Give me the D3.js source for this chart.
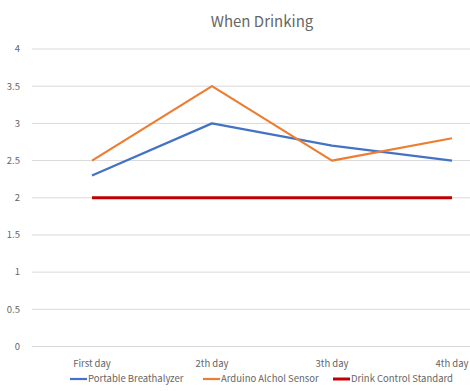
<!DOCTYPE html>
<html>
<head>
<meta charset="utf-8">
<script src="https://cdn.jsdelivr.net/npm/d3@7"></script>
<style>
    body { margin: 0; background: #fff; }
    text { font-family: "Noto Sans CJK KR", "Noto Sans", sans-serif; fill: #666; }
</style>
</head>
<body>
<div id="chart"></div>
<script>

const days = ["First day", "2th day", "3th day", "4th day"];
const breathalyzer = [2.3, 3.0, 2.7, 2.5];
const arduino = [2.5, 3.5, 2.5, 2.8];
const standard = [2, 2, 2, 2];
const yTicks = [0, 0.5, 1, 1.5, 2, 2.5, 3, 3.5, 4];

const series = [
    { name: "Portable Breathalyzer", values: breathalyzer, color: "#4472C4", width: 2.2 },
    { name: "Arduino Alchol Sensor", values: arduino, color: "#ED7D31", width: 2.2 },
    { name: "Drink Control Standard", values: standard, color: "#C00000", width: 3 }
];

const W = 470, H = 391;
const margin = { top: 49, left: 32, bottom: 44 };

const svg = d3.select("#chart").append("svg")
    .attr("width", W)
    .attr("height", H);

// x is wider than the window: the original picture is cut off on the right
const x = d3.scaleBand()
    .domain(days)
    .range([margin.left, margin.left + 480]);

const y = d3.scaleLinear()
    .domain([0, 4])
    .range([H - margin.bottom - 0.5, margin.top]);

// gridlines
svg.append("g").selectAll("line")
    .data(yTicks)
    .enter()
    .append("line")
    .attr("x1", margin.left)
    .attr("x2", W)
    .attr("y1", d => y(d))
    .attr("y2", d => y(d))
    .attr("stroke", "#d9d9d9")
    .attr("stroke-width", 1);

// y labels
svg.append("g").selectAll("text")
    .data(yTicks)
    .enter()
    .append("text")
    .attr("x", 20)
    .attr("y", d => y(d))
    .attr("dy", "0.35em")
    .attr("text-anchor", "end")
    .attr("font-size", 9.5)
    .text(d => d);

// x labels
svg.append("g").selectAll("text")
    .data(days)
    .enter()
    .append("text")
    .attr("x", d => x(d) + x.bandwidth() / 2)
    .attr("y", 367)
    .attr("text-anchor", "middle")
    .attr("font-size", 9.5)
    .text(d => d);

// lines
const line = d3.line()
    .x((d, i) => x(days[i]) + x.bandwidth() / 2)
    .y(d => y(d));

svg.append("g").selectAll("path")
    .data(series)
    .enter()
    .append("path")
    .attr("d", d => line(d.values))
    .attr("fill", "none")
    .attr("stroke", d => d.color)
    .attr("stroke-width", d => d.width)
    .attr("stroke-linejoin", "round");

// title
svg.append("text")
    .attr("x", 262)
    .attr("y", 27)
    .attr("text-anchor", "middle")
    .attr("font-size", 15)
    .text("When Drinking");

// legend
const legendX = [70, 203, 333];
const legend = svg.append("g").selectAll("g")
    .data(series)
    .enter()
    .append("g")
    .attr("transform", (d, i) => "translate(" + legendX[i] + ",379)");

legend.append("line")
    .attr("x1", 0)
    .attr("x2", 17)
    .attr("stroke", d => d.color)
    .attr("stroke-width", d => d.width);

legend.append("text")
    .attr("x", 18)
    .attr("dy", "0.35em")
    .attr("font-size", 9.5)
    .text(d => d.name);

</script>
</body>
</html>
